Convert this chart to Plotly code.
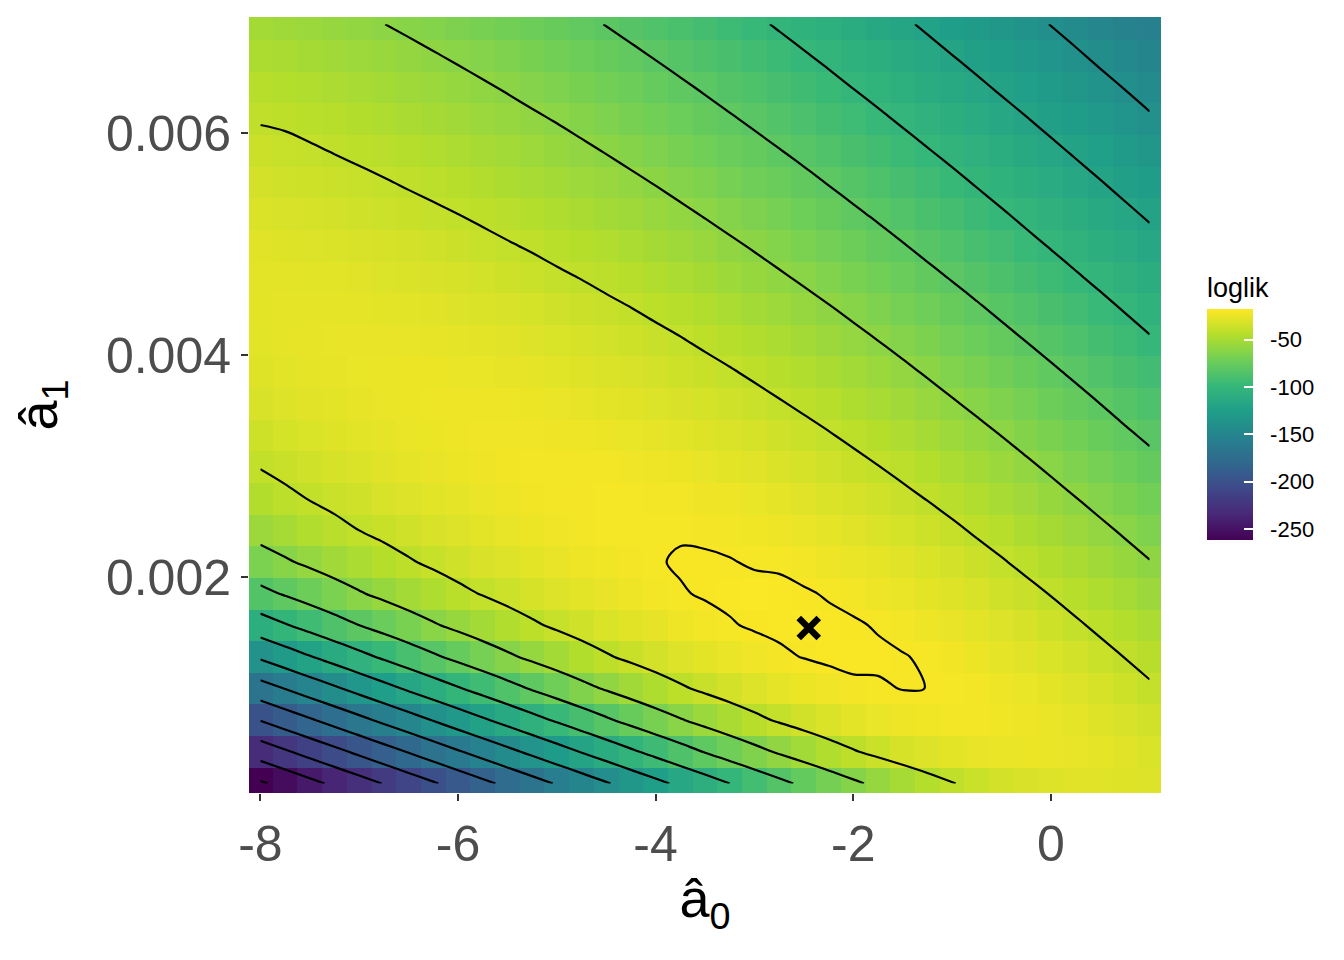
import plotly.graph_objects as go

# grid of intercept values a0_hat (columns)
a0_hat = [-8.0, -7.75, -7.5, -7.25, -7.0, -6.75, -6.5, -6.25, -6.0, -5.75, -5.5, -5.25, -5.0,
          -4.75, -4.5, -4.25, -4.0, -3.75, -3.5, -3.25, -3.0, -2.75, -2.5, -2.25, -2.0, -1.75,
          -1.5, -1.25, -1.0, -0.75, -0.5, -0.25, 0.0, 0.25, 0.5, 0.75, 1.0]
# grid of slope values a1_hat (rows, bottom to top)
a1_hat = [0.000140, 0.000425, 0.000710, 0.000995, 0.001280, 0.001565, 0.001850, 0.002135,
          0.002420, 0.002705, 0.002990, 0.003275, 0.003560, 0.003845, 0.004130, 0.004415,
          0.004700, 0.004985, 0.005270, 0.005555, 0.005840, 0.006125, 0.006410, 0.006695, 0.006980]
# log-likelihood, one list per a1_hat row
loglik = [
 [-262.6, -253.9, -245.2, -236.5, -227.9, -219.2, -210.5, -201.8, -193.1, -184.5, -175.8, -167.2, -158.6, -150.0, -141.5, -133.0, -124.6, -116.3, -108.1, -100.0, -92.0, -84.3, -76.8, -69.6, -62.8, -56.4, -50.5, -45.2, -40.6, -36.6, -33.5, -31.1, -29.4, -28.6, -28.5, -29.0, -30.1],
 [-231.0, -222.3, -213.6, -205.0, -196.3, -187.6, -179.0, -170.3, -161.7, -153.2, -144.6, -136.1, -127.7, -119.3, -111.0, -102.8, -94.8, -86.9, -79.3, -71.9, -64.9, -58.2, -52.0, -46.3, -41.1, -36.6, -32.7, -29.5, -27.1, -25.4, -24.4, -24.1, -24.4, -25.3, -26.7, -28.6, -30.9],
 [-199.5, -190.8, -182.2, -173.5, -164.9, -156.3, -147.8, -139.3, -130.8, -122.5, -114.2, -106.0, -98.0, -90.1, -82.5, -75.0, -67.9, -61.2, -54.8, -48.9, -43.4, -38.5, -34.2, -30.5, -27.4, -24.9, -23.1, -21.9, -21.3, -21.3, -21.9, -23.0, -24.5, -26.4, -28.7, -31.3, -34.2],
 [-168.1, -159.6, -151.0, -142.6, -134.1, -125.8, -117.5, -109.4, -101.4, -93.6, -86.0, -78.6, -71.6, -64.8, -58.5, -52.5, -47.0, -41.9, -37.3, -33.2, -29.7, -26.7, -24.2, -22.3, -20.9, -20.6, -19.85, -20.02, -20.4, -21.5, -23.0, -24.9, -27.1, -29.6, -32.4, -35.4, -38.6],
 [-137.5, -129.2, -121.0, -113.0, -105.1, -97.4, -89.9, -82.6, -75.7, -69.0, -62.7, -56.8, -51.3, -46.1, -41.4, -37.2, -33.4, -30.0, -27.0, -24.5, -22.5, -20.9, -19.8, -19.1, -18.9, -19.1, -19.7, -20.7, -22.1, -23.9, -26.0, -28.3, -31.0, -33.8, -36.9, -40.2, -43.5],
 [-108.9, -101.3, -94.0, -86.9, -80.1, -73.6, -67.4, -61.6, -56.1, -51.0, -46.3, -41.9, -37.9, -34.3, -31.0, -28.2, -25.7, -23.5, -21.8, -20.4, -19.4, -18.9, -18.7, -18.9, -19.4, -20.4, -21.7, -23.3, -25.2, -27.4, -29.9, -32.6, -35.5, -38.6, -41.9, -45.3, -48.8],
 [-84.8, -78.5, -72.4, -66.7, -61.3, -56.3, -51.5, -47.1, -43.0, -39.3, -35.8, -32.7, -29.8, -27.3, -25.1, -23.2, -21.7, -20.4, -19.5, -19.0, -18.8, -19.0, -19.5, -20.4, -21.5, -23.0, -24.8, -26.8, -29.1, -31.6, -34.4, -37.3, -40.4, -43.7, -47.0, -50.5, -54.1],
 [-66.9, -61.8, -57.1, -52.7, -48.6, -44.7, -41.1, -37.8, -34.7, -31.9, -29.4, -27.1, -25.1, -23.4, -21.9, -20.8, -20.4, -19.5, -19.3, -19.8, -20.4, -20.6, -21.7, -23.0, -24.6, -26.5, -28.6, -30.9, -33.5, -36.3, -39.2, -42.3, -45.5, -48.9, -52.4, -56.0, -59.6],
 [-54.3, -50.4, -46.7, -43.3, -40.0, -37.1, -34.3, -31.7, -29.4, -27.3, -25.4, -23.8, -22.4, -21.4, -20.6, -20.7, -20.6, -20.5, -21.0, -21.1, -22.0, -23.3, -24.7, -26.4, -28.4, -30.6, -32.9, -35.5, -38.2, -41.2, -44.2, -47.5, -50.8, -54.3, -57.8, -61.4, -65.1],
 [-45.7, -42.5, -39.6, -36.9, -34.3, -31.9, -29.8, -27.8, -26.0, -24.4, -23.1, -22.1, -21.3, -20.8, -20.6, -20.7, -21.1, -21.7, -22.6, -23.7, -25.0, -26.6, -28.4, -30.4, -32.6, -35.0, -37.6, -40.3, -43.2, -46.3, -49.4, -52.8, -56.2, -59.7, -63.3, -67.0, -70.7],
 [-39.6, -37.1, -34.7, -32.4, -30.3, -28.4, -26.7, -25.2, -23.9, -22.9, -22.1, -21.7, -21.4, -21.5, -21.8, -22.4, -23.2, -24.2, -25.5, -27.0, -28.6, -30.5, -32.5, -34.7, -37.1, -39.7, -42.4, -45.3, -48.3, -51.5, -54.8, -58.1, -61.6, -65.2, -68.8, -72.6, -76.3],
 [-35.2, -33.0, -31.0, -29.2, -27.5, -26.0, -24.8, -23.8, -23.0, -22.5, -22.3, -22.4, -22.7, -23.2, -23.9, -24.9, -26.1, -27.5, -29.0, -30.7, -32.6, -34.7, -36.9, -39.3, -41.9, -44.6, -47.4, -50.4, -53.6, -56.8, -60.1, -63.6, -67.1, -70.7, -74.4, -78.2, -81.9],
 [-31.8, -30.0, -28.3, -26.9, -25.7, -24.7, -24.0, -23.5, -23.2, -23.3, -23.5, -24.1, -24.8, -25.7, -26.8, -28.1, -29.5, -31.1, -32.9, -34.9, -36.9, -39.2, -41.6, -44.1, -46.8, -49.6, -52.6, -55.7, -58.9, -62.2, -65.6, -69.1, -72.7, -76.3, -80.0, -83.8, -87.6],
 [-29.2, -27.8, -26.6, -25.6, -24.9, -24.4, -24.2, -24.2, -24.5, -25.0, -25.7, -26.5, -27.6, -28.8, -30.2, -31.7, -33.4, -35.2, -37.1, -39.2, -41.5, -43.9, -46.4, -49.1, -51.9, -54.8, -57.8, -61.0, -64.3, -67.6, -71.1, -74.6, -78.2, -81.9, -85.6, -89.4, -93.2],
 [-27.6, -26.6, -25.9, -25.4, -25.2, -25.2, -25.5, -25.9, -26.6, -27.4, -28.4, -29.6, -30.9, -32.4, -33.9, -35.6, -37.5, -39.4, -41.6, -43.8, -46.2, -48.7, -51.3, -54.1, -57.0, -60.0, -63.1, -66.4, -69.7, -73.1, -76.6, -80.2, -83.8, -87.5, -91.3, -95.0, -98.9],
 [-26.9, -26.4, -26.2, -26.2, -26.5, -26.9, -27.6, -28.4, -29.4, -30.5, -31.7, -33.1, -34.6, -36.2, -38.0, -39.8, -41.8, -43.9, -46.2, -48.5, -51.0, -53.6, -56.4, -59.2, -62.2, -65.3, -68.5, -71.8, -75.2, -78.6, -82.2, -85.8, -89.4, -93.1, -96.9, -100.7, -104.5],
 [-27.2, -27.2, -27.5, -27.9, -28.6, -29.4, -30.3, -31.4, -32.6, -33.9, -35.4, -36.9, -38.6, -40.3, -42.2, -44.2, -46.3, -48.5, -50.9, -53.4, -56.0, -58.7, -61.5, -64.5, -67.5, -70.7, -73.9, -77.3, -80.7, -84.2, -87.7, -91.4, -95.0, -98.8, -102.5, -106.4, -110.2],
 [-28.5, -28.9, -29.6, -30.4, -31.3, -32.4, -33.5, -34.8, -36.2, -37.7, -39.3, -40.9, -42.7, -44.6, -46.6, -48.7, -50.9, -53.3, -55.7, -58.3, -61.0, -63.8, -66.7, -69.8, -72.9, -76.1, -79.4, -82.8, -86.2, -89.7, -93.3, -97.0, -100.7, -104.4, -108.2, -112.0, -115.9],
 [-30.6, -31.4, -32.3, -33.4, -34.5, -35.8, -37.1, -38.5, -40.0, -41.6, -43.3, -45.1, -47.0, -49.0, -51.1, -53.3, -55.7, -58.1, -60.7, -63.4, -66.1, -69.0, -72.0, -75.1, -78.3, -81.5, -84.9, -88.3, -91.8, -95.3, -98.9, -102.6, -106.3, -110.1, -113.9, -117.7, -121.6],
 [-33.4, -34.4, -35.5, -36.7, -38.0, -39.4, -40.9, -42.4, -44.1, -45.8, -47.6, -49.5, -51.5, -53.6, -55.8, -58.1, -60.5, -63.1, -65.7, -68.5, -71.3, -74.3, -77.3, -80.5, -83.7, -87.0, -90.4, -93.8, -97.3, -100.9, -104.5, -108.2, -112.0, -115.7, -119.5, -123.4, -127.2],
 [-36.5, -37.7, -39.0, -40.4, -41.8, -43.3, -44.9, -46.5, -48.2, -50.0, -51.9, -53.9, -56.0, -58.2, -60.5, -62.9, -65.5, -68.1, -70.8, -73.6, -76.6, -79.6, -82.7, -85.9, -89.2, -92.5, -95.9, -99.4, -102.9, -106.5, -110.2, -113.9, -117.6, -121.4, -125.2, -129.1, -132.9],
 [-40.8, -41.4, -42.7, -44.2, -45.7, -47.3, -48.9, -50.7, -52.5, -54.4, -56.4, -58.5, -60.6, -62.9, -65.4, -67.9, -70.5, -73.2, -76.0, -78.9, -81.9, -84.9, -88.1, -91.3, -94.6, -98.0, -101.5, -105.0, -108.5, -112.2, -115.8, -119.5, -123.3, -127.1, -130.9, -134.7, -138.6],
 [-43.7, -45.2, -46.6, -48.2, -49.7, -51.4, -53.1, -54.9, -56.8, -58.8, -60.9, -63.1, -65.4, -67.8, -70.3, -72.9, -75.6, -78.3, -81.2, -84.2, -87.2, -90.3, -93.5, -96.8, -100.2, -103.6, -107.0, -110.6, -114.2, -117.8, -121.5, -125.2, -128.9, -132.7, -136.6, -140.4, -144.3],
 [-47.6, -49.1, -50.6, -52.2, -53.9, -55.6, -57.4, -59.3, -61.3, -63.4, -65.6, -67.8, -70.2, -72.7, -75.3, -77.9, -80.7, -83.6, -86.5, -89.5, -92.6, -95.8, -99.0, -102.3, -105.7, -109.1, -112.6, -116.2, -119.8, -123.4, -127.1, -130.8, -134.6, -138.4, -142.3, -146.1, -150.0],
 [-51.5, -53.1, -54.7, -56.4, -58.1, -59.9, -61.8, -63.8, -65.9, -68.0, -70.3, -72.7, -75.1, -77.7, -80.3, -83.1, -85.9, -88.8, -91.8, -94.9, -98.0, -101.2, -104.5, -107.8, -111.2, -114.7, -118.2, -121.8, -125.4, -129.1, -132.8, -136.5, -140.3, -144.1, -147.9, -151.8, -155.7],
]
# maximum-likelihood estimate (marked with a cross)
mle_a0 = [-2.45]
mle_a1 = [0.00154]
# contour levels and colour-bar labels
contour_start, contour_end, contour_step = -260, -20, 20
cbar_ticks = [-50, -100, -150, -200, -250]
cbar_labels = ['-50', '-100', '-150', '-200', '-250']
x_ticks = [-8, -6, -4, -2, 0]
x_labels = ['-8', '-6', '-4', '-2', '0']
y_ticks = [0.002, 0.004, 0.006]
y_labels = ['0.002', '0.004', '0.006']

nb = '\u00a0\u00a0'
fig = go.Figure()
fig.add_trace(go.Heatmap(
    x=a0_hat, y=a1_hat, z=loglik, colorscale='Viridis', zmin=-261.6, zmax=-17.5, zsmooth=False,
    hoverinfo='skip',
    colorbar=dict(title=dict(text='loglik', side='top', font=dict(size=27, color='black')),
                  thickness=46, len=266, lenmode='pixels', x=1.0504, xanchor='left', xpad=0, ypad=0,
                  y=(793 - 540) / 776, yanchor='bottom', outlinewidth=0,
                  tickvals=cbar_ticks, ticktext=[nb + t for t in cbar_labels],
                  ticks='inside', ticklen=9, tickcolor='white', tickwidth=1.5,
                  tickfont=dict(size=22, color='black'))))
fig.add_trace(go.Contour(
    x=a0_hat, y=a1_hat, z=loglik,
    contours=dict(start=contour_start, end=contour_end, size=contour_step, coloring='lines'),
    colorscale=[[0, 'black'], [1, 'black']], showscale=False, line=dict(width=2.2), hoverinfo='skip'))
fig.add_trace(go.Scatter(
    x=mle_a0, y=mle_a1, mode='markers',
    marker=dict(symbol='x-thin', size=20, color='black', line=dict(width=6.5, color='black'))))

fig.update_layout(
    width=1336, height=952, margin=dict(l=241, r=183, t=9, b=167), showlegend=False,
    plot_bgcolor='white', paper_bgcolor='white', font=dict(family='Liberation Sans'),
    xaxis=dict(range=[-8.115, 1.115], tickvals=x_ticks, ticktext=x_labels,
               ticks='outside', ticklen=7, tickwidth=2, tickcolor='#333333',
               tickfont=dict(size=50, color='#4d4d4d'), showgrid=False, zeroline=False,
               title=dict(text='â<sub>0</sub>', font=dict(size=54, color='black'), standoff=8)),
    yaxis=dict(range=[0.0000541, 0.007045], tickvals=y_ticks, ticktext=y_labels,
               ticks='outside', ticklen=7, tickwidth=2, tickcolor='#333333',
               tickfont=dict(size=50, color='#4d4d4d'), showgrid=False, zeroline=False,
               title=dict(text='â<sub>1</sub>', font=dict(size=54, color='black'), standoff=36)))
fig.write_html('out.html')
